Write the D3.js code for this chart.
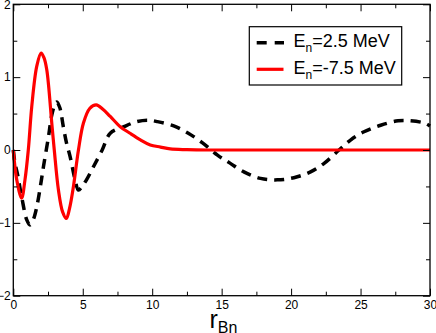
<!DOCTYPE html>
<html>
<head>
<meta charset="utf-8">
<script src="https://cdn.jsdelivr.net/npm/d3@7"></script>
<style>
  body { margin: 0; background: #fff; }
  svg { display: block; font-family: "Liberation Sans", Arial, sans-serif; }
</style>
</head>
<body>
<svg id="chart" width="436" height="333"></svg>
<script>
// E_n = 2.5 MeV (black dashed)
var rPos = [0, 0.12, 0.3, 0.6, 0.97, 1.2, 1.45, 1.69, 1.95, 2.17, 2.53, 2.77, 3.0, 3.13, 3.35, 3.6, 3.85, 4.09, 4.45, 4.69,
    4.95, 5.3, 5.77, 6.4, 6.98, 7.96, 8.9, 9.7, 10.35, 11.55, 12.6, 13.6, 14.7, 15.6, 16.6, 17.8, 19.0, 20.2, 21.4, 22.4,
    23.45, 24.3, 25.25, 26.45, 27.7, 28.6, 29.6, 30];
var uPos = [0, -0.18, -0.33, -0.64, -0.96, -1.03, -0.95, -0.78, -0.5, -0.23, 0.18, 0.48, 0.63, 0.66, 0.58, 0.32, 0.08, -0.09, -0.41, -0.55,
    -0.5, -0.4, -0.23, 0, 0.23, 0.32, 0.39, 0.41, 0.39, 0.33, 0.23, 0.1, -0.07, -0.18, -0.3, -0.39, -0.41, -0.38, -0.3, -0.18,
    0, 0.14, 0.25, 0.34, 0.40, 0.40, 0.37, 0.33];

// E_n = -7.5 MeV (red solid)
var rNeg = [0, 0.25, 0.6, 0.84, 1.08, 1.33, 1.69, 2.0, 2.2, 2.41, 2.77, 2.95, 3.25, 3.55, 3.82, 4.05, 4.33, 4.69,
    5.05, 5.5, 5.97, 6.45, 6.98, 7.7, 8.4, 9.15, 9.86, 10.6, 11.3, 12.5, 14, 20, 30];
var uNeg = [0, -0.41, -0.66, -0.41, 0, 0.6, 1.15, 1.33, 1.27, 1.1, 0.37, 0, -0.55, -0.85, -0.94, -0.8, -0.5, 0,
    0.37, 0.57, 0.62, 0.56, 0.46, 0.32, 0.23, 0.14, 0.07, 0.04, 0.015, 0.005, 0, 0, 0];

var xMajor = [0, 5, 10, 15, 20, 25, 30];
var xMinor = [2.5, 7.5, 12.5, 17.5, 22.5, 27.5];
var yMajor = [-2, -1, 0, 1, 2];
var yMinor = [-1.5, -0.5, 0.5, 1.5];

var legendLabels = ["=2.5 MeV", "=-7.5 MeV"];

var svg = d3.select("#chart");
var pLeft = 13.3, pRight = 430, pTop = 4.3, pBottom = 295.7;

var x = d3.scaleLinear().domain([0, 30]).range([pLeft, pRight]);
var y = d3.scaleLinear().domain([-2, 2]).range([pBottom, pTop]);

// curves
var line = d3.line().x(function (d) { return x(d[0]); }).y(function (d) { return y(d[1]); })
    .curve(d3.curveCatmullRom.alpha(0.5));

svg.append("path")
    .datum(d3.zip(rPos, uPos))
    .attr("d", line)
    .attr("fill", "none")
    .attr("stroke", "#000")
    .attr("stroke-width", 3.5)
    .attr("stroke-dasharray", "10,7");

svg.append("path")
    .datum(d3.zip(rNeg, uNeg))
    .attr("d", line)
    .attr("fill", "none")
    .attr("stroke", "#ff0000")
    .attr("stroke-width", 3.2);

// axes, ticks pointing inward
function styleAxis(g) {
    g.select(".domain").remove();
    g.selectAll(".tick line").attr("stroke", "#000").attr("stroke-width", 1);
    g.selectAll(".tick text").attr("fill", "#000").style("font-size", "12px")
        .style("font-family", "Liberation Sans, Arial, sans-serif");
}

svg.append("g").attr("transform", "translate(0," + pBottom + ")")
    .call(d3.axisBottom(x).tickValues(xMajor).tickSize(-7).tickPadding(5).tickFormat(d3.format("d")))
    .call(styleAxis);
svg.append("g").attr("transform", "translate(0," + pBottom + ")")
    .call(d3.axisBottom(x).tickValues(xMinor).tickSize(-4).tickFormat(""))
    .call(styleAxis);
svg.append("g").attr("transform", "translate(0," + pTop + ")")
    .call(d3.axisTop(x).tickValues(xMajor).tickSize(-7).tickFormat(""))
    .call(styleAxis);
svg.append("g").attr("transform", "translate(0," + pTop + ")")
    .call(d3.axisTop(x).tickValues(xMinor).tickSize(-4).tickFormat(""))
    .call(styleAxis);

svg.append("g").attr("transform", "translate(" + pLeft + ",0)")
    .call(d3.axisLeft(y).tickValues(yMajor).tickSize(-7).tickPadding(2.5).tickFormat(d3.format("d")))
    .call(styleAxis);
svg.append("g").attr("transform", "translate(" + pLeft + ",0)")
    .call(d3.axisLeft(y).tickValues(yMinor).tickSize(-4).tickFormat(""))
    .call(styleAxis);
svg.append("g").attr("transform", "translate(" + pRight + ",0)")
    .call(d3.axisRight(y).tickValues(yMajor).tickSize(-7).tickFormat(""))
    .call(styleAxis);
svg.append("g").attr("transform", "translate(" + pRight + ",0)")
    .call(d3.axisRight(y).tickValues(yMinor).tickSize(-4).tickFormat(""))
    .call(styleAxis);

// frame
svg.append("rect")
    .attr("x", pLeft).attr("y", pTop)
    .attr("width", pRight - pLeft).attr("height", pBottom - pTop)
    .attr("fill", "none").attr("stroke", "#000").attr("stroke-width", 1.3);

// x axis title r_Bn
var title = svg.append("text").attr("x", 209.5).attr("y", 327.5).attr("fill", "#000");
title.append("tspan").attr("fill", "#000").style("font-size", "25px").text("r");
title.append("tspan").attr("fill", "#000").attr("dy", 5).style("font-size", "16px").text("Bn");

// legend
var lg = svg.append("g");
lg.append("rect")
    .attr("x", 249.3).attr("y", 26.7).attr("width", 152.4).attr("height", 58.3)
    .attr("fill", "#fff").attr("stroke", "#000").attr("stroke-width", 1.2);

lg.append("line").attr("x1", 256.7).attr("x2", 284).attr("y1", 42.7).attr("y2", 42.7)
    .attr("stroke", "#000").attr("stroke-width", 3.5).attr("stroke-dasharray", "10,8");
lg.append("line").attr("x1", 256.7).attr("x2", 283.5).attr("y1", 69.3).attr("y2", 69.3)
    .attr("stroke", "#ff0000").attr("stroke-width", 3.2);

legendLabels.forEach(function (lab, i) {
    var t = lg.append("text").attr("x", 293.5).attr("y", 47 + i * 26.5).attr("fill", "#000")
        .style("font-size", "18px");
    t.append("tspan").attr("fill", "#000").text("E");
    t.append("tspan").attr("fill", "#000").attr("dy", 5).style("font-size", "12px").text("n");
    t.append("tspan").attr("fill", "#000").attr("dy", -5).text(lab);
});
</script>
</body>
</html>
